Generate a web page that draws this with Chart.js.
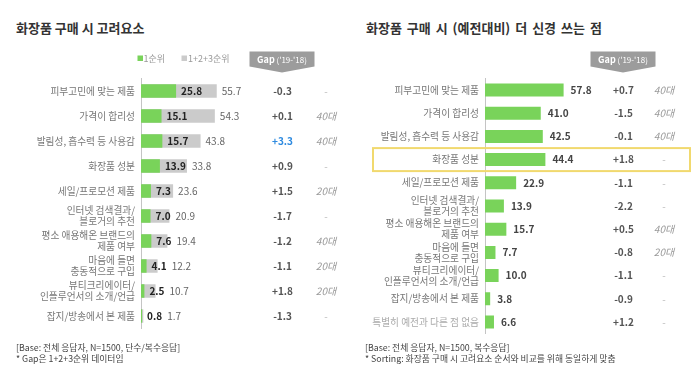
<!DOCTYPE html>
<html>
<head>
<meta charset="utf-8">
<script src="https://cdn.jsdelivr.net/npm/chart.js@4.4.1/dist/chart.umd.min.js"></script>
<style>
  html, body { margin: 0; padding: 0; background: #fff; }
  body { width: 700px; height: 375px; position: relative; overflow: hidden;
         font-family: 'Noto Sans CJK KR', 'Noto Sans', sans-serif; }
  canvas { position: absolute; top: 0; }
  .title { position: absolute; top: 20px; font-size: 13px; line-height: 16px; font-weight: bold; color: #333; white-space: nowrap; }
  .foot { position: absolute; top: 342px; font-size: 8.8px; line-height: 11px; color: #444; white-space: nowrap; }
</style>
</head>
<body>
<div class="title" style="left:16px">화장품 구매 시 고려요소</div>
<div class="title" style="left:366px; word-spacing:2px">화장품 구매 시 (예전대비) 더 신경 쓰는 점</div>
<canvas id="left" width="350" height="375" style="left:0"></canvas>
<canvas id="right" width="350" height="375" style="left:350px"></canvas>
<div class="foot" style="left:16px">[Base: 전체 응답자, N=1500, 단수/복수응답]<br>* Gap은 1+2+3순위 데이터임</div>
<div class="foot" style="left:365px">[Base: 전체 응답자, N=1500, 복수응답]<br>* Sorting: 화장품 구매 시 고려요소 순서와 비교를 위해 동일하게 맞춤</div>
<script>
// ---------- data ----------
const leftCategories = [
  '피부고민에 맞는 제품', '가격이 합리성', '발림성, 흡수력 등 사용감', '화장품 성분', '세일/프로모션 제품',
  ['인터넷 검색결과/', '블로거의 추천'], ['평소 애용해온 브랜드의', '제품 여부'], ['마음에 들면', '충동적으로 구입'],
  ['뷰티크리에이터/', '인플루언서의 소개/언급'], '잡지/방송에서 본 제품'
];
const firstRank = [25.8, 15.1, 15.7, 13.9, 7.3, 7.0, 7.6, 4.1, 2.5, 0.8];
const top3Rank = [55.7, 54.3, 43.8, 33.8, 23.6, 20.9, 19.4, 12.2, 10.7, 1.7];
const leftGap = ['-0.3', '+0.1', '+3.3', '+0.9', '+1.5', '-1.7', '-1.2', '-1.1', '+1.8', '-1.3'];
const leftAge = ['-', '40대', '40대', '-', '20대', '-', '40대', '20대', '20대', '-'];

const rightCategories = [
  '피부고민에 맞는 제품', '가격이 합리성', '발림성, 흡수력 등 사용감', '화장품 성분', '세일/프로모션 제품',
  ['인터넷 검색결과/', '블로거의 추천'], ['평소 애용해온 브랜드의', '제품 여부'], ['마음에 들면', '충동적으로 구입'],
  ['뷰티크리에이터/', '인플루언서의 소개/언급'], '잡지/방송에서 본 제품', '특별히 예전과 다른 점 없음'
];
const moreCare = [57.8, 41.0, 42.5, 44.4, 22.9, 13.9, 15.7, 7.7, 10.0, 3.8, 6.6];
const rightGap = ['+0.7', '-1.5', '-0.1', '+1.8', '-1.1', '-2.2', '+0.5', '-0.8', '-1.1', '-0.9', '+1.2'];
const rightAge = ['40대', '40대', '40대', '-', '-', '-', '40대', '20대', '-', '-', '-'];
const highlightIndex = 3;

const legendLabels = ['1순위', '1+2+3순위'];
const gapHeader = ['Gap', " ('19-'18)"];

// ---------- styles ----------
const FONT = "'Noto Sans CJK KR', 'Noto Sans', sans-serif";
const GREEN = '#79d35a';
const GREY = '#cbcbcb';
Chart.defaults.font.family = FONT;

function drawGapHeader(ctx, cx) {
  const w = 65, top = 51.5, bottom = 66.5, tip = 72.5;
  ctx.save();
  ctx.fillStyle = '#9c9c9c';
  ctx.beginPath();
  ctx.moveTo(cx - w / 2, top);
  ctx.lineTo(cx + w / 2, top);
  ctx.lineTo(cx + w / 2, bottom);
  ctx.lineTo(cx, tip);
  ctx.lineTo(cx - w / 2, bottom);
  ctx.closePath();
  ctx.fill();
  ctx.fillStyle = '#fff';
  ctx.textBaseline = 'middle';
  ctx.font = 'bold 9px ' + FONT;
  const w1 = ctx.measureText(gapHeader[0]).width;
  ctx.font = '8px ' + FONT;
  const w2 = ctx.measureText(gapHeader[1]).width;
  let x = cx - (w1 + w2) / 2;
  ctx.textAlign = 'left';
  ctx.font = 'bold 9px ' + FONT;
  ctx.fillText(gapHeader[0], x, 59.5);
  ctx.font = '8px ' + FONT;
  ctx.fillText(gapHeader[1], x + w1, 59.5);
  ctx.restore();
}

function drawColumns(ctx, ys, gaps, ages, gapX, ageX) {
  ctx.save();
  ctx.textBaseline = 'middle';
  ctx.textAlign = 'center';
  ys.forEach((y, i) => {
    ctx.font = 'bold 10px ' + FONT;
    ctx.fillStyle = gaps[i] === '+3.3' ? '#2f8be0' : '#555';
    ctx.fillText(gaps[i], gapX, y);
    if (ages[i] === '-') {
      ctx.font = '10px ' + FONT;
      ctx.fillStyle = '#bbb';
    } else {
      ctx.font = 'italic 10px ' + FONT;
      ctx.fillStyle = '#999';
    }
    ctx.fillText(ages[i], ageX, y);
  });
  ctx.restore();
}

const leftPlugin = {
  id: 'leftLabels',
  afterDraw(chart) {
    const ctx = chart.ctx;
    const g = chart.getDatasetMeta(0).data;
    const t = chart.getDatasetMeta(1).data;
    ctx.save();
    ctx.textBaseline = 'middle';
    ctx.textAlign = 'left';
    g.forEach((el, i) => {
      ctx.font = 'bold 10px ' + FONT;
      ctx.fillStyle = '#222';
      const gx = el.x + 5;
      const txt = firstRank[i].toFixed(1);
      ctx.fillText(txt, gx, el.y);
      const gw = ctx.measureText(txt).width;
      ctx.font = '10px ' + FONT;
      ctx.fillStyle = '#666';
      const tx = Math.max(t[i].x, gx + gw) + 5;
      ctx.fillText(top3Rank[i].toFixed(1), tx, el.y);
    });
    // legend
    ctx.font = '9px ' + FONT;
    ctx.fillStyle = GREEN;
    ctx.fillRect(137.5, 55.5, 5.5, 5.5);
    ctx.fillStyle = '#999';
    ctx.fillText(legendLabels[0], 143.5, 58.5);
    ctx.fillStyle = GREY;
    ctx.fillRect(181.5, 55.5, 5.5, 5.5);
    ctx.fillStyle = '#999';
    ctx.fillText(legendLabels[1], 188, 58.5);
    ctx.restore();
    drawGapHeader(ctx, 282);
    drawColumns(ctx, g.map(e => e.y), leftGap, leftAge, 282.5, 326);
  }
};

const rightPlugin = {
  id: 'rightLabels',
  afterDraw(chart) {
    const ctx = chart.ctx;
    const d = chart.getDatasetMeta(0).data;
    ctx.save();
    ctx.textBaseline = 'middle';
    ctx.textAlign = 'left';
    ctx.font = 'bold 10px ' + FONT;
    ctx.fillStyle = '#444';
    d.forEach((el, i) => {
      ctx.fillText(moreCare[i].toFixed(1), el.x + 7, el.y);
    });
    // highlight box
    const hy = d[highlightIndex].y;
    ctx.strokeStyle = '#f1d96e';
    ctx.lineWidth = 2;
    ctx.strokeRect(23, hy - 11.5, 317, 23);
    ctx.restore();
    drawGapHeader(ctx, 273);
    drawColumns(ctx, d.map(e => e.y), rightGap, rightAge, 273.5, 314);
  }
};

function yAxis(width, colorFn) {
  return {
    afterFit: s => { s.width = width; },
    grid: { display: false, drawTicks: false },
    border: { display: true, color: '#c4c4c4', width: 1 },
    ticks: {
      autoSkip: false,
      padding: 6,
      color: colorFn,
      font: { size: 9.7, lineHeight: 1.15, family: FONT }
    }
  };
}

new Chart(document.getElementById('left'), {
  type: 'bar',
  data: {
    labels: leftCategories,
    datasets: [
      { label: legendLabels[0], data: firstRank, backgroundColor: GREEN, grouped: false, order: 0,
        barPercentage: 0.54, categoryPercentage: 1 },
      { label: legendLabels[1], data: top3Rank, backgroundColor: GREY, grouped: false, order: 1,
        barPercentage: 0.54, categoryPercentage: 1 }
    ]
  },
  options: {
    indexAxis: 'y',
    responsive: false,
    animation: false,
    devicePixelRatio: 1,
    layout: { padding: { left: 0, top: 78.5, bottom: 46.5, right: 73 } },
    scales: {
      x: { display: false, min: 0, max: 100 },
      y: yAxis(141, () => '#777')
    },
    plugins: { legend: { display: false }, tooltip: { enabled: false } }
  },
  plugins: [leftPlugin]
});

new Chart(document.getElementById('right'), {
  type: 'bar',
  data: {
    labels: rightCategories,
    datasets: [
      { label: '더 신경 쓰는 점', data: moreCare, backgroundColor: GREEN,
        barPercentage: 0.56, categoryPercentage: 1 }
    ]
  },
  options: {
    indexAxis: 'y',
    responsive: false,
    animation: false,
    devicePixelRatio: 1,
    layout: { padding: { left: 0, top: 78.4, bottom: 41.4, right: 79 } },
    scales: {
      x: { display: false, min: 0, max: 100 },
      y: yAxis(135, (c) => c.index === 10 ? '#aaa' : '#777')
    },
    plugins: { legend: { display: false }, tooltip: { enabled: false } }
  },
  plugins: [rightPlugin]
});
</script>
</body>
</html>
